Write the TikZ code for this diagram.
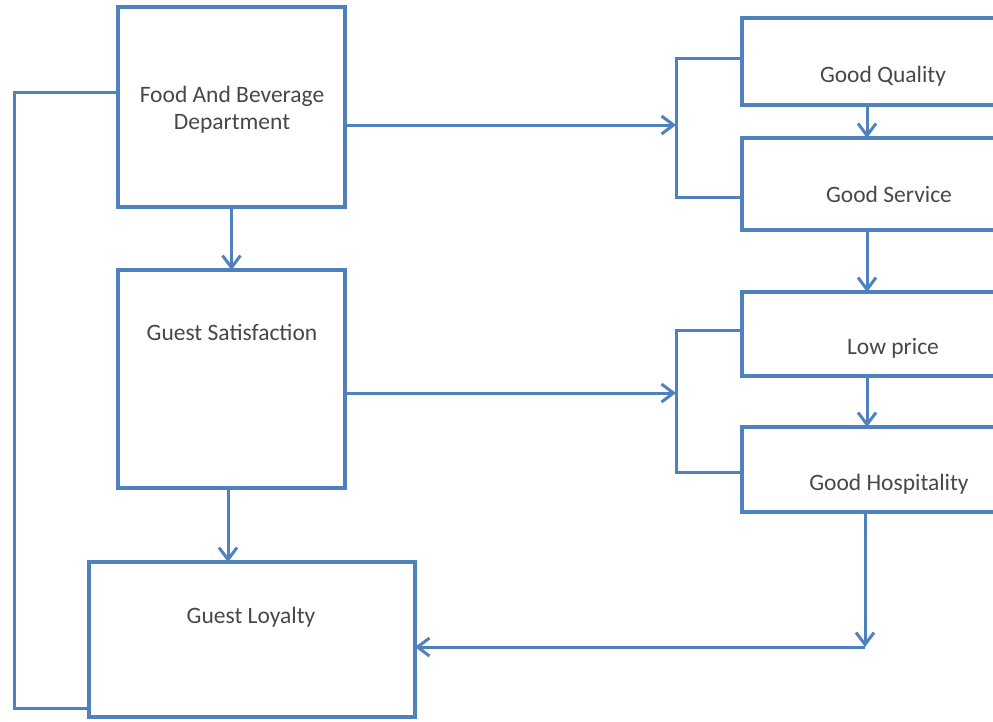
\documentclass[tikz,border=0pt]{standalone}
\usepackage{fontspec}
\setmainfont{Carlito}
\usepackage{tikz}
\usetikzlibrary{arrows.meta}

\definecolor{boxblue}{RGB}{79,129,189}
\definecolor{labelgray}{RGB}{72,72,72}

\tikzset{
  block/.style={draw=boxblue, line width=4pt, fill=white, inner sep=0pt, outer sep=0pt},
  caption/.style={text=labelgray, font=\fontsize{23.5}{27}\selectfont, align=center, inner sep=0pt},
  link/.style={draw=boxblue, line width=3pt},
  flow/.style={link, -{Straight Barb[length=12pt,width=18pt,line width=3pt]}}
}

\begin{document}
\begin{tikzpicture}[x=1pt,y=-1pt]

        \useasboundingbox (0,0) rectangle (993,721);
        \fill[white] (0,0) rectangle (993,721);
        \clip (0,0) rectangle (993,721);

        % left column
        \node[block, minimum width=227pt, minimum height=200pt] (food) at (231.5,107) {};
        \node[block, minimum width=227pt, minimum height=218pt] (sat) at (231.5,379) {};
        \node[block, minimum width=326pt, minimum height=155pt] (loyal) at (252,639.5) {};

        % right column
        \node[block, minimum width=288pt, minimum height=87pt] (quality) at (886,61.5) {};
        \node[block, minimum width=288pt, minimum height=92pt] (service) at (886,184) {};
        \node[block, minimum width=288pt, minimum height=84pt] (price) at (886,334) {};
        \node[block, minimum width=288pt, minimum height=85pt] (hosp) at (886,469.5) {};

        \node[caption] (foodtxt) at (232,110) {Food And Beverage\\Department};
        \node[caption] (sattxt) at (232,332) {Guest Satisfaction};
        \node[caption] (loyaltxt) at (251,617) {Guest Loyalty};
        \node[caption] (qualitytxt) at (883,76) {Good Quality};
        \node[caption] (servicetxt) at (889,194) {Good Service};
        \node[caption] (pricetxt) at (893,348) {Low price};
        \node[caption] (hosptxt) at (889,484) {Good Hospitality};

        \coordinate (col) at (867,0);
        \coordinate (loopbot) at (14,708);
        \coordinate (looptop) at (14,92);
        \coordinate (bra) at (676,125);
        \coordinate (brb) at (676,393);
        \coordinate (corner) at (865,647);

        % feedback loop
        \draw[link] (loyal.west |- loopbot) -- (loopbot) -- (looptop) -- (food.west |- looptop);

        \draw[flow] (food.south) -- (sat.north);
        \draw[flow] (sat.south -| 228,0) -- (loyal.north -| 228,0);

        % brackets
        \draw[link] (quality.west |- 0,58) -| (bra |- 0,197) -- (service.west |- 0,197);
        \draw[flow] (food.east |- bra) -- (bra);
        \draw[link] (price.west |- 0,330) -| (brb |- 0,472) -- (hosp.west |- 0,472);
        \draw[flow] (sat.east |- brb) -- (brb);

        \draw[flow] (quality.south -| col) -- (service.north -| col);
        \draw[flow] (service.south -| col) -- (price.north -| col);
        \draw[flow] (price.south -| col) -- (hosp.north -| col);

        \draw[flow] (hosp.south -| corner) -- (corner);
        \draw[flow] (corner) -- (loyal.east |- corner);

    \end{tikzpicture}
\end{document}
